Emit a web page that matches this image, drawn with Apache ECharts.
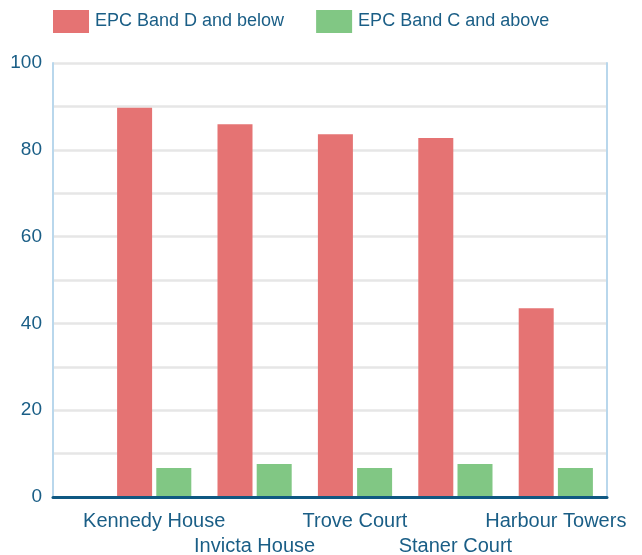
<!DOCTYPE html>
<html>
<head>
<meta charset="utf-8">
<script src="https://cdn.jsdelivr.net/npm/echarts@6/dist/echarts.min.js"></script>
<style>
  html, body { margin: 0; padding: 0; background: #ffffff; }
  #chart { width: 642px; height: 555px; }
</style>
</head>
<body>
<div id="chart"></div>
<script>
// Blocks and the share of homes in each EPC band (%)
const categories = ['Kennedy House', 'Invicta House', 'Trove Court', 'Staner Court', 'Harbour Towers'];
const bandDAndBelow = [89.7, 85.9, 83.6, 82.7, 43.5];
const bandCAndAbove = [6.7, 7.6, 6.7, 7.6, 6.7];
const yTicks = [0, 20, 40, 60, 80, 100];

const textColor = '#1a5e86';
const font = 'Liberation Sans, Arial, sans-serif';

const chart = echarts.init(document.getElementById('chart'), null, { renderer: 'canvas' });

chart.setOption({
  animation: false,
  legend: {
    left: 53,
    top: 10,
    padding: 0,
    itemWidth: 36,
    itemHeight: 23,
    itemGap: 32,
    icon: 'rect',
    textStyle: { color: textColor, fontSize: 18, fontFamily: font, padding: [0, 0, 0, 1] },
    data: ['EPC Band D and below', 'EPC Band C and above']
  },
  grid: [
    // frame, gridlines and value axis
    { left: 53, right: 35, top: 63, bottom: 58, outerBoundsMode: 'none' },
    // bars
    { left: 104, right: 36, top: 63, bottom: 58, outerBoundsMode: 'none' }
  ],
  xAxis: [
    {
      gridIndex: 0, type: 'value', min: 0, max: 1, z: 10,
      axisLine: { show: true, lineStyle: { color: '#0f5882', width: 3 } },
      axisTick: { show: false }, axisLabel: { show: false }, splitLine: { show: false }
    },
    {
      gridIndex: 1, type: 'category', data: categories,
      axisLine: { show: false }, axisTick: { show: false },
      axisLabel: {
        interval: 0, margin: 12, color: textColor, fontSize: 20, fontFamily: font, lineHeight: 25,
        formatter: (v, i) => (i % 2 === 1 ? '\n' + v : v)
      }
    }
  ],
  yAxis: [
    {
      gridIndex: 0, type: 'value', min: 0, max: 100, interval: 10,
      axisLine: { show: true, lineStyle: { color: '#b9d7ec', width: 2 } },
      axisTick: { show: false },
      splitLine: { show: true, lineStyle: { color: '#e6e6e6', width: 2.5 } },
      axisLabel: {
        margin: 11, color: textColor, fontSize: 19, fontFamily: font,
        formatter: v => (yTicks.includes(v) ? String(v) : '')
      }
    },
    {
      gridIndex: 0, type: 'value', position: 'right', min: 0, max: 100,
      axisLine: { show: true, lineStyle: { color: '#b9d7ec', width: 2 } },
      axisTick: { show: false }, axisLabel: { show: false }, splitLine: { show: false }
    },
    {
      gridIndex: 1, type: 'value', min: 0, max: 100, show: false,
      splitLine: { show: false }
    }
  ],
  series: [
    {
      name: 'EPC Band D and below', type: 'bar', xAxisIndex: 1, yAxisIndex: 2,
      data: bandDAndBelow, barWidth: 35, barGap: '12%',
      itemStyle: { color: '#e57373' }
    },
    {
      name: 'EPC Band C and above', type: 'bar', xAxisIndex: 1, yAxisIndex: 2,
      data: bandCAndAbove, barWidth: 35,
      itemStyle: { color: '#81c784' }
    }
  ]
});
</script>
</body>
</html>
